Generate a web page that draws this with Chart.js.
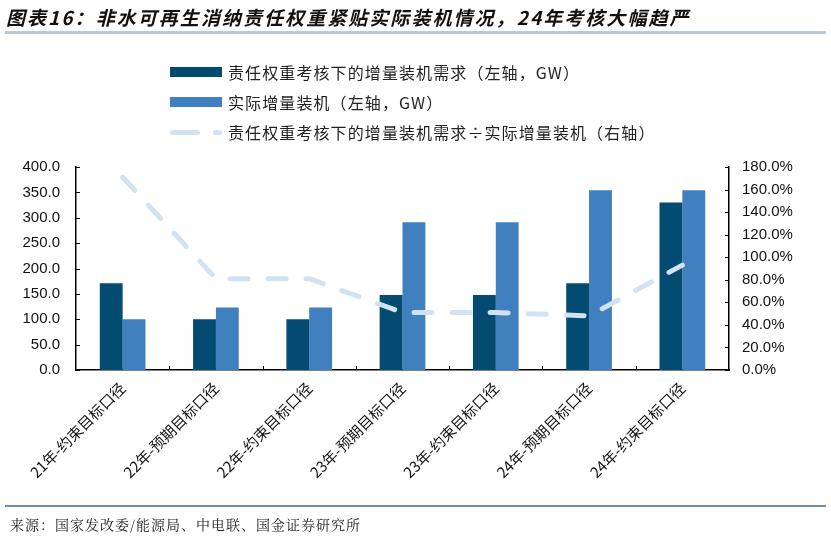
<!DOCTYPE html>
<html>
<head>
<meta charset="utf-8">
<script src="https://cdn.jsdelivr.net/npm/chart.js@4/dist/chart.umd.min.js"></script>
<style>
  html, body { margin: 0; padding: 0; background: #fff; }
  #wrap { position: relative; width: 831px; height: 538px; overflow: hidden; }
  #myChart { position: absolute; left: 0; top: 0; }
  .title {
    position: absolute; left: 6px; top: 3px;
    font: italic bold 19px "Noto Sans CJK SC", sans-serif; color: #111;
    white-space: nowrap; letter-spacing: 2.05px;
  }
  .rule { position: absolute; left: 5px; width: 821px; }
  .legend { position: absolute; left: 170px; top: 60px; font: 16px "Noto Sans CJK SC", sans-serif; color: #222; }
  .item { position: absolute; left: 0; height: 24px; white-space: nowrap; }
  .item span.txt { position: absolute; left: 58px; top: 0; line-height: 24px; letter-spacing: 1.1px; }
  .source {
    position: absolute; left: 10px; top: 514px;
    font: 14px "Noto Serif CJK SC", "Noto Sans CJK SC", serif; color: #222;
    white-space: nowrap; letter-spacing: 1px;
  }
</style>
</head>
<body>
<div id="wrap">
  <canvas id="myChart" width="831" height="538"></canvas>
  <div class="title">图表16：非水可再生消纳责任权重紧贴实际装机情况，24年考核大幅趋严</div>
  <div class="rule" style="top:31px;height:3px;background:#bccbd6;"></div>
  <div class="legend" id="legend"></div>
  <div class="rule" style="top:505px;height:2px;background:#6f8ea3;"></div>
  <div class="source">来源：国家发改委/能源局、中电联、国金证券研究所</div>
</div>
<script>
// 数据
const categories = ["21年-约束目标口径", "22年-预期目标口径", "22年-约束目标口径", "23年-预期目标口径", "23年-约束目标口径", "24年-预期目标口径", "24年-约束目标口径"];
const demandGW = [171, 100, 100, 148, 148, 171, 330];
const actualGW = [100, 123, 123, 291, 291, 354, 354];
const ratioPct = [171, 81, 81, 51, 51, 48, 93];

const labelDemand = "责任权重考核下的增量装机需求（左轴，GW）";
const labelActual = "实际增量装机（左轴，GW）";
const labelRatio = "责任权重考核下的增量装机需求÷实际增量装机（右轴）";

const darkBlue = "#034b70";
const midBlue = "#4180be";
const lightBlue = "#d1e2f3";

// 图例（HTML）
const legendEl = document.getElementById("legend");
const legendRows = [
  { text: labelDemand, type: "box", color: darkBlue },
  { text: labelActual, type: "box", color: midBlue },
  { text: labelRatio, type: "dash", color: lightBlue },
];
legendRows.forEach((r, i) => {
  const item = document.createElement("div");
  item.className = "item";
  item.style.top = (i * 30) + "px";
  if (r.type === "box") {
    item.innerHTML = '<div style="position:absolute;left:0;top:7px;width:52px;height:10px;background:' + r.color + '"></div>';
  } else {
    item.innerHTML = '<div style="position:absolute;left:0;top:10px;width:30px;height:5px;border-radius:3px;background:' + r.color + '"></div>' +
      '<div style="position:absolute;left:43px;top:10px;width:9px;height:5px;border-radius:3px;background:' + r.color + '"></div>';
  }
  const t = document.createElement("span");
  t.className = "txt";
  t.textContent = r.text;
  item.appendChild(t);
  legendEl.appendChild(item);
});

// 向内的刻度线
const innerTicks = {
  id: "innerTicks",
  afterDraw(chart) {
    const c = chart.ctx;
    const { y, y1, x } = chart.scales;
    c.save();
    c.strokeStyle = "#000";
    c.lineWidth = 1;
    c.beginPath();
    y.ticks.forEach((t, i) => {
      const py = Math.round(y.getPixelForTick(i)) + 0.5;
      c.moveTo(y.right, py); c.lineTo(y.right + 4, py);
    });
    y1.ticks.forEach((t, i) => {
      const py = Math.round(y1.getPixelForTick(i)) + 0.5;
      c.moveTo(y1.left, py); c.lineTo(y1.left - 4, py);
    });
    for (let i = 1; i < categories.length; i++) {
      const px = Math.round((x.getPixelForValue(i - 1) + x.getPixelForValue(i)) / 2) + 0.5;
      c.moveTo(px, x.top); c.lineTo(px, x.top - 4);
    }
    c.stroke();
    c.restore();
  },
};

const numFont = { family: "'Liberation Sans', Arial, sans-serif", size: 15 };

const ctx = document.getElementById("myChart");
const myChart = new Chart(ctx, {
  type: "bar",
  data: {
    labels: categories,
    datasets: [
      {
        type: "line",
        label: labelRatio,
        data: ratioPct,
        yAxisID: "y1",
        borderColor: lightBlue,
        backgroundColor: lightBlue,
        borderWidth: 5,
        borderDash: [18, 20],
        borderCapStyle: "round",
        borderJoinStyle: "round",
        pointRadius: 0,
        tension: 0,
        order: 0,
      },
      {
        label: labelDemand,
        data: demandGW,
        backgroundColor: darkBlue,
        yAxisID: "y",
        categoryPercentage: 0.49,
        barPercentage: 1,
        order: 1,
      },
      {
        label: labelActual,
        data: actualGW,
        backgroundColor: midBlue,
        yAxisID: "y",
        categoryPercentage: 0.49,
        barPercentage: 1,
        order: 1,
      },
    ],
  },
  options: {
    responsive: false,
    animation: false,
    layout: { padding: { top: 167, left: 0, right: 0, bottom: 0 } },
    plugins: { legend: { display: false }, tooltip: { enabled: false } },
    scales: {
      x: {
        grid: { display: false, drawTicks: false },
        border: { display: true, color: "#000", width: 1.5 },
        ticks: {
          color: "#111",
          font: { family: "'Noto Sans CJK SC', sans-serif", size: 15 },
          maxRotation: 45,
          minRotation: 45,
          padding: 9,
          autoSkip: false,
        },
        afterFit(scale) { scale.height = 168; },
      },
      y: {
        position: "left",
        min: 0,
        max: 400,
        grid: { display: false, drawTicks: false },
        border: { display: true, color: "#000", width: 1.5 },
        ticks: {
          stepSize: 50,
          color: "#111",
          font: numFont,
          padding: 16,
          callback: (v) => v.toFixed(1),
        },
        afterFit(scale) { scale.width = 76; },
      },
      y1: {
        position: "right",
        min: 0,
        max: 180,
        grid: { display: false, drawTicks: false },
        border: { display: true, color: "#000", width: 1.5 },
        ticks: {
          stepSize: 20,
          color: "#111",
          font: numFont,
          padding: 13,
          callback: (v) => v.toFixed(1) + "%",
        },
        afterFit(scale) { scale.width = 102; },
      },
    },
  },
  plugins: [innerTicks],
});
</script>
</body>
</html>
